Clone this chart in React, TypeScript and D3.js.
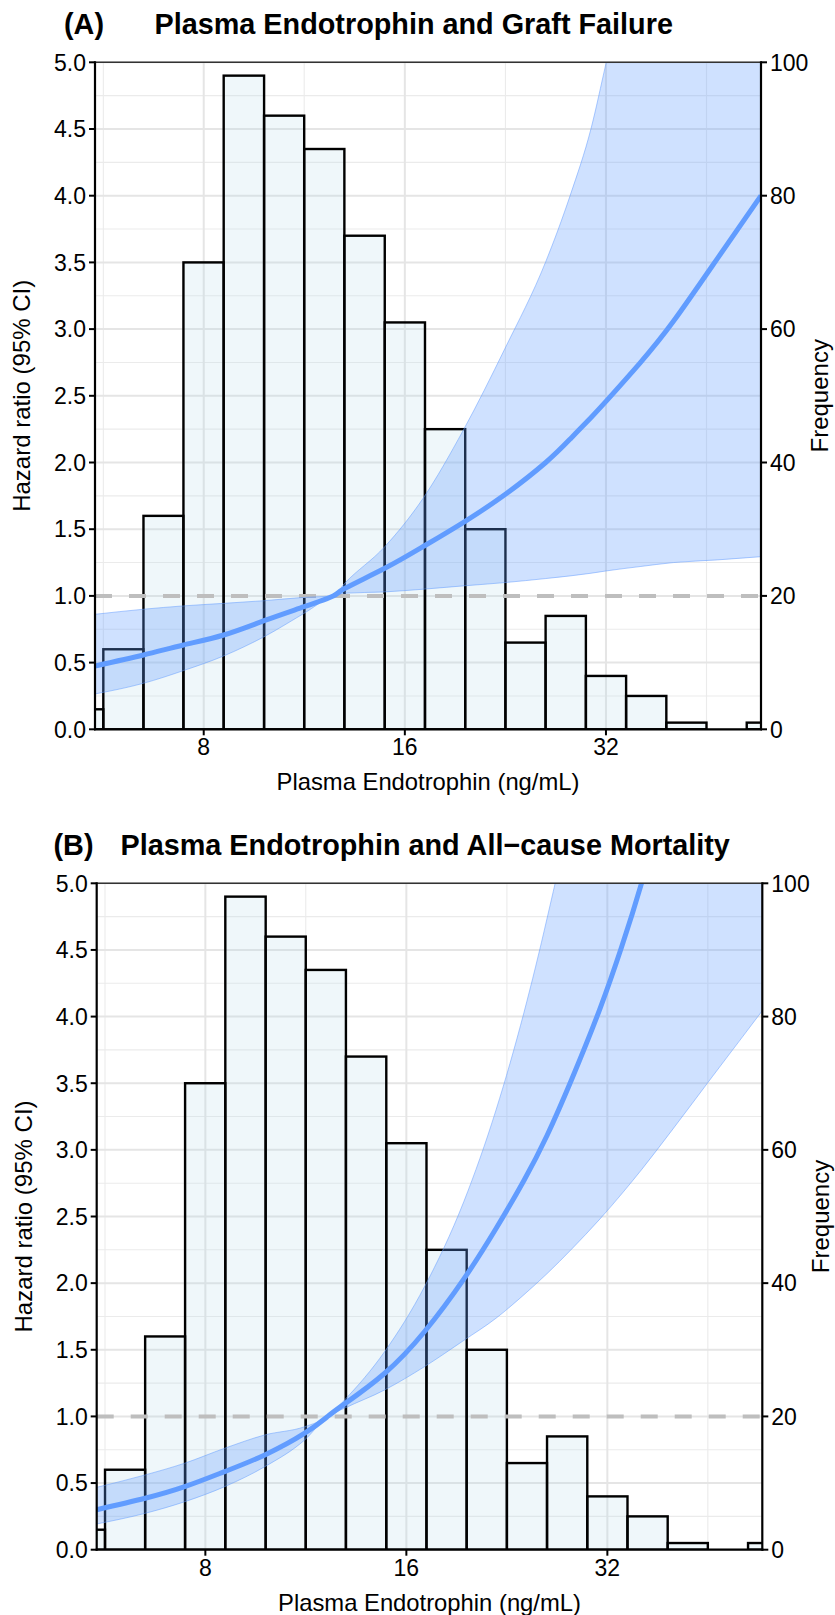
import React from "react";
import * as d3 from "d3";

// ---------- data ----------
// histogram bin edges (ng/mL) and counts (same for both panels)
const BIN_EDGES = [4.92, 5.66, 6.5, 7.46, 8.57, 9.85, 11.31, 12.99, 14.93, 17.15, 19.7, 22.63, 25.99, 29.86, 34.3, 39.4, 45.25, 51.98, 59.71];
const FREQ = [3, 12, 32, 70, 98, 92, 87, 74, 61, 45, 30, 13, 17, 8, 5, 1, 0, 1];

const X_DOMAIN = [5.5, 54.6];
const X_TICKS = [8, 16, 32];
const X_MINOR = [5.66, 11.31, 22.63, 45.25];
const Y_TICKS = [0, 0.5, 1, 1.5, 2, 2.5, 3, 3.5, 4, 4.5, 5];
const Y_MINOR = [0.25, 0.75, 1.25, 1.75, 2.25, 2.75, 3.25, 3.75, 4.25, 4.75];
const FREQ_TICKS = [0, 20, 40, 60, 80, 100];

// Panel A: graft failure
const X_A = [5.5, 6.5, 7.46, 8.57, 9.85, 11.31, 12.5, 13.0, 14.93, 17.03, 19.56, 22.6, 26.0, 28.3, 30.4, 32, 36, 40.4, 47, 54.6];
const HR_A = [0.475, 0.557, 0.632, 0.707, 0.814, 0.919, 1.0, 1.055, 1.207, 1.369, 1.55, 1.76, 2.0, 2.177, 2.338, 2.458, 2.747, 3.06, 3.53, 4.0];
const LO_A = [0.265, 0.345, 0.44, 0.55, 0.694, 0.87, 1.0, 1.02, 1.03, 1.05, 1.075, 1.1, 1.13, 1.15, 1.17, 1.187, 1.22, 1.25, 1.27, 1.294];
const HI_A = [0.862, 0.9, 0.925, 0.944, 0.964, 0.989, 1.0, 1.094, 1.369, 1.73, 2.24, 2.856, 3.505, 4.005, 4.505, 4.99, 6.1, 7.4, 9.5, 12.3];

// Panel B: all-cause mortality
const X_B = [5.5, 6.5, 7.45, 8.55, 9.82, 11.27, 12.2, 12.93, 14.85, 17.04, 19.5, 21.8, 24, 26, 28.3, 31.2, 33.6, 36, 40, 46, 54.6];
const HR_B = [0.3, 0.386, 0.473, 0.586, 0.711, 0.874, 1.0, 1.094, 1.324, 1.637, 2.03, 2.41, 2.77, 3.11, 3.53, 4.06, 4.52, 5.0, 5.84, 7.16, 9.18];
const LO_B = [0.193, 0.273, 0.36, 0.473, 0.623, 0.824, 1.0, 1.062, 1.199, 1.374, 1.57, 1.737, 1.913, 2.072, 2.256, 2.482, 2.668, 2.851, 3.148, 3.552, 4.044];
const HI_B = [0.468, 0.561, 0.649, 0.761, 0.861, 0.923, 1.0, 1.124, 1.487, 1.975, 2.61, 3.3, 4.03, 4.74, 5.6, 7.0, 8.0, 9.0, 11.0, 14.0, 18.0];

const FONT = "'Liberation Sans', Arial, Helvetica, sans-serif";
const BLUE = "#619CFF";

type PanelProps = {
  id: string;
  left: number;
  top: number;
  right: number;
  bottom: number;
  tag: string;
  tagX: number;
  title: string;
  titleX: number;
  titleY: number;
  xs: number[];
  hr: number[];
  lo: number[];
  hi: number[];
};

function Panel(p: PanelProps) {
  const x = d3.scaleLog().base(2).domain(X_DOMAIN).range([p.left, p.right]);
  const y = d3.scaleLinear().domain([0, 5]).range([p.bottom, p.top]);
  const yF = d3.scaleLinear().domain([0, 100]).range([p.bottom, p.top]);
  const cx = (p.left + p.right) / 2;
  const cy = (p.top + p.bottom) / 2;

  const pts = p.xs.map((v, i) => ({ x: v, hr: p.hr[i], lo: p.lo[i], hi: p.hi[i] }));
  const area = d3
    .area<any>()
    .x((d) => x(d.x))
    .y0((d) => y(d.lo))
    .y1((d) => y(d.hi))
    .curve(d3.curveMonotoneX);
  const lineHR = d3.line<any>().x((d) => x(d.x)).y((d) => y(d.hr)).curve(d3.curveNatural);
  const lineLo = d3.line<any>().x((d) => x(d.x)).y((d) => y(d.lo)).curve(d3.curveMonotoneX);
  const lineHi = d3.line<any>().x((d) => x(d.x)).y((d) => y(d.hi)).curve(d3.curveMonotoneX);

  const clipId = `clip-${p.id}`;
  return (
    <g>
      <defs>
        <clipPath id={clipId}>
          <rect x={p.left} y={p.top} width={p.right - p.left} height={p.bottom - p.top} />
        </clipPath>
      </defs>
      {/* title */}
      <text x={p.tagX} y={p.titleY} fontFamily={FONT} fontWeight="bold" fontSize={28.8} fill="#000">
        {p.tag}
      </text>
      <text x={p.titleX} y={p.titleY} fontFamily={FONT} fontWeight="bold" fontSize={28.8} fill="#000">
        {p.title}
      </text>
      {/* grid */}
      <g>
        {Y_MINOR.map((v) => (
          <line key={"ym" + v} x1={p.left} x2={p.right} y1={y(v)} y2={y(v)} stroke="#ebebeb" strokeWidth={1.1} />
        ))}
        {X_MINOR.map((v) => (
          <line key={"xm" + v} x1={x(v)} x2={x(v)} y1={p.top} y2={p.bottom} stroke="#ebebeb" strokeWidth={1.1} />
        ))}
        {Y_TICKS.map((v) => (
          <line key={"yM" + v} x1={p.left} x2={p.right} y1={y(v)} y2={y(v)} stroke="#e5e5e5" strokeWidth={2} />
        ))}
        {X_TICKS.map((v) => (
          <line key={"xM" + v} x1={x(v)} x2={x(v)} y1={p.top} y2={p.bottom} stroke="#e5e5e5" strokeWidth={2} />
        ))}
      </g>
      <g clipPath={`url(#${clipId})`}>
        {/* histogram */}
        {FREQ.map((f, i) => (
          <rect
            key={"b" + i}
            x={x(BIN_EDGES[i])}
            y={yF(f)}
            width={x(BIN_EDGES[i + 1]) - x(BIN_EDGES[i])}
            height={yF(0) - yF(f)}
            fill="#ADD8E6"
            fillOpacity={0.2}
            stroke="#000"
            strokeWidth={2.4}
          />
        ))}
        {/* reference line */}
        <line x1={p.left} x2={p.right} y1={y(1)} y2={y(1)} stroke="#bebebe" strokeWidth={4} strokeDasharray="17 17" />
        {/* CI ribbon */}
        <path d={area(pts) || ""} fill={BLUE} fillOpacity={0.3} stroke="none" />
        <path d={lineLo(pts) || ""} fill="none" stroke={BLUE} strokeOpacity={0.5} strokeWidth={1} />
        <path d={lineHi(pts) || ""} fill="none" stroke={BLUE} strokeOpacity={0.5} strokeWidth={1} />
        {/* HR curve */}
        <path d={lineHR(pts) || ""} fill="none" stroke={BLUE} strokeWidth={5} />
      </g>
      {/* top border */}
      <line x1={p.left} x2={p.right} y1={p.top} y2={p.top} stroke="#333" strokeWidth={1.6} />
      {/* axes lines */}
      <line x1={p.left} x2={p.left} y1={p.top - 1} y2={p.bottom + 1} stroke="#000" strokeWidth={2.2} />
      <line x1={p.right} x2={p.right} y1={p.top - 1} y2={p.bottom + 1} stroke="#000" strokeWidth={2.2} />
      <line x1={p.left - 1} x2={p.right + 1} y1={p.bottom} y2={p.bottom} stroke="#000" strokeWidth={2.2} />
      {/* left axis */}
      {Y_TICKS.map((v) => (
        <g key={"lt" + v}>
          <line x1={p.left - 6} x2={p.left} y1={y(v)} y2={y(v)} stroke="#000" strokeWidth={2} />
          <text x={p.left - 9} y={y(v)} dy="0.36em" textAnchor="end" fontFamily={FONT} fontSize={23} fill="#000">
            {d3.format(".1f")(v)}
          </text>
        </g>
      ))}
      {/* right axis */}
      {FREQ_TICKS.map((v) => (
        <g key={"rt" + v}>
          <line x1={p.right} x2={p.right + 6} y1={yF(v)} y2={yF(v)} stroke="#000" strokeWidth={2} />
          <text x={p.right + 9} y={yF(v)} dy="0.36em" textAnchor="start" fontFamily={FONT} fontSize={23} fill="#000">
            {v}
          </text>
        </g>
      ))}
      {/* bottom axis */}
      {X_TICKS.map((v) => (
        <g key={"bt" + v}>
          <line x1={x(v)} x2={x(v)} y1={p.bottom} y2={p.bottom + 6} stroke="#000" strokeWidth={2} />
          <text x={x(v)} y={p.bottom + 26} textAnchor="middle" fontFamily={FONT} fontSize={23} fill="#000">
            {v}
          </text>
        </g>
      ))}
      {/* axis titles */}
      <text x={cx} y={p.bottom + 61} textAnchor="middle" fontFamily={FONT} fontSize={23.8} fill="#000">
        Plasma Endotrophin (ng/mL)
      </text>
      <text
        transform={`translate(${p.left - 65},${cy}) rotate(-90)`}
        textAnchor="middle"
        fontFamily={FONT}
        fontSize={24}
        fill="#000"
      >
        Hazard ratio (95% CI)
      </text>
      <text
        transform={`translate(${p.right + 67},${cy}) rotate(-90)`}
        textAnchor="middle"
        fontFamily={FONT}
        fontSize={24}
        fill="#000"
      >
        Frequency
      </text>
    </g>
  );
}

export default function App() {
  return (
    <svg
      width={835}
      height={1615}
      viewBox="0 0 835 1615"
      style={{ position: "absolute", left: 0, top: 0, background: "#fff", display: "block" }}
    >
      <rect x={0} y={0} width={835} height={1615} fill="#fff" />
      <Panel
        id="a"
        left={95}
        top={62.3}
        right={761}
        bottom={729.3}
        tag="(A)"
        tagX={64}
        title="Plasma Endotrophin and Graft Failure"
        titleX={154.5}
        titleY={34}
        xs={X_A}
        hr={HR_A}
        lo={LO_A}
        hi={HI_A}
      />
      <Panel
        id="b"
        left={96.7}
        top={883.3}
        right={762.3}
        bottom={1549.7}
        tag="(B)"
        tagX={53.5}
        title="Plasma Endotrophin and All−cause Mortality"
        titleX={120.5}
        titleY={855}
        xs={X_B}
        hr={HR_B}
        lo={LO_B}
        hi={HI_B}
      />
    </svg>
  );
}
